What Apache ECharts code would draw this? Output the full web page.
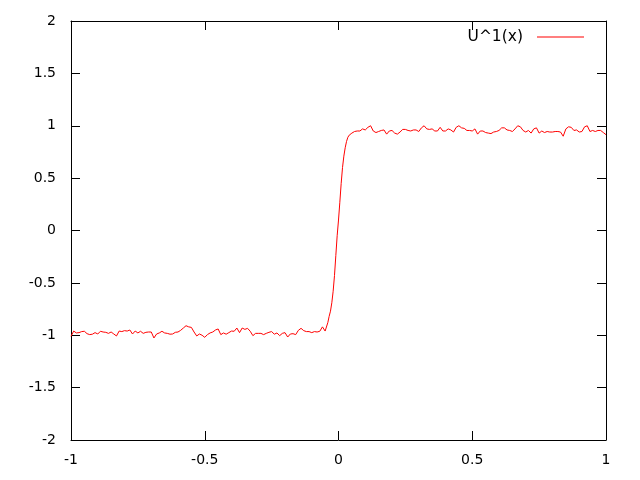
<!DOCTYPE html>
<html>
<head>
<meta charset="utf-8">
<script src="https://cdn.jsdelivr.net/npm/echarts@6/dist/echarts.min.js"></script>
<style>
  html, body { margin: 0; padding: 0; background: #fff; }
  #chart { width: 640px; height: 480px; }
</style>
</head>
<body>
<div id="chart"></div>
<script>
// lower plateau, x = -1 .. -0.04 step 0.01
const lowerY = [
  -1.01, -0.96, -0.978, -0.975, -0.965, -0.962, -0.985, -0.994, -0.99, -0.975,
  -0.988, -0.962, -0.969, -0.972, -0.982, -0.969, -0.988, -1.007, -0.96, -0.965,
  -0.956, -0.96, -0.95, -0.988, -0.96, -0.978, -0.962, -0.982, -0.972, -0.969,
  -0.969, -1.026, -0.988, -0.978, -0.962, -0.978, -0.982, -0.99, -0.988, -0.972,
  -0.969, -0.953, -0.931, -0.909, -0.92, -0.925, -0.969, -1.007, -0.988, -1.0,
  -1.02, -0.994, -0.978, -0.969, -0.95, -0.94, -0.994, -0.978, -0.99, -0.975,
  -0.96, -0.962, -0.931, -0.975, -0.931, -0.944, -0.934, -0.962, -1.004, -0.982,
  -0.982, -0.982, -0.994, -0.982, -0.972, -0.965, -0.99, -0.978, -1.004, -0.982,
  -0.975, -1.017, -0.988, -0.985, -0.994, -0.953, -0.934, -0.956, -0.965, -0.965,
  -0.975, -0.965, -0.969, -0.962, -0.92, -0.96, -0.88
];
// steep part around x = 0
const stepX = [-0.035, -0.03, -0.025, -0.02, -0.015, -0.01, -0.005, 0, 0.005, 0.01, 0.015, 0.02, 0.025, 0.03, 0.035, 0.04, 0.045];
const stepY = [-0.82, -0.77, -0.69, -0.58, -0.43, -0.24, -0.05, 0.1, 0.27, 0.45, 0.6, 0.71, 0.79, 0.85, 0.89, 0.91, 0.925];
// upper plateau, x = 0.05 .. 1 step 0.01
const upperY = [
  0.93, 0.945, 0.95, 0.95, 0.97, 0.96, 0.985, 1.0, 0.95, 0.935,
  0.945, 0.955, 0.96, 0.92, 0.95, 0.955, 0.93, 0.92, 0.94, 0.965,
  0.965, 0.955, 0.95, 0.96, 0.96, 0.945, 0.98, 1.0, 0.97, 0.965,
  0.97, 0.95, 0.95, 0.985, 0.95, 0.95, 0.97, 0.96, 0.94, 0.985,
  1.0, 0.98, 0.975, 0.955, 0.955, 0.95, 0.97, 0.92, 0.95, 0.95,
  0.935, 0.93, 0.925, 0.94, 0.945, 0.955, 0.98, 0.98, 0.96, 0.955,
  0.945, 0.97, 1.0, 0.99, 0.955, 0.94, 0.955, 0.93, 0.97, 0.98,
  0.93, 0.95, 0.935, 0.945, 0.94, 0.94, 0.945, 0.945, 0.94, 0.90,
  0.97, 0.99, 0.985, 0.955, 0.96, 0.94, 0.945, 0.99, 1.0, 0.945,
  0.955, 0.945, 0.955, 0.955, 0.935, 0.915
];
const xTicks = [-1, -0.5, 0, 0.5, 1];
const yTicks = [-2, -1.5, -1, -0.5, 0, 0.5, 1, 1.5, 2];

const pts = []
lowerY.forEach((v, i) => pts.push([+(-1 + i * 0.01).toFixed(2), v]))
stepX.forEach((x, i) => pts.push([x, stepY[i]]))
upperY.forEach((v, i) => pts.push([+(0.05 + i * 0.01).toFixed(2), v]))

const FONT = "'DejaVu Sans', sans-serif"
const fmt = v => String(v)

const chart = echarts.init(document.getElementById('chart'))
const tickStyle = { show: true, inside: true, length: 9, lineStyle: { color: '#000', width: 1 } }
const lineStyle = { show: true, onZero: false, lineStyle: { color: '#000', width: 1 } }

chart.setOption({
  animation: false,
  textStyle: { fontFamily: FONT },
  grid: { left: 71, right: 34, top: 21, bottom: 40, containLabel: false },
  legend: {
    right: 51, top: 24,
    align: 'right',
    itemWidth: 47, itemHeight: 1, itemGap: 0,
    icon: 'rect',
    textStyle: { fontFamily: FONT, fontSize: 15.5, color: '#000', padding: [0, 9, 0, 0] },
    data: ['U^1(x)']
  },
  xAxis: [
    {
      type: 'value', min: -1, max: 1, interval: 0.5,
      axisLine: lineStyle, axisTick: tickStyle, splitLine: { show: false },
      axisLabel: { color: '#000', fontSize: 14, fontFamily: FONT, margin: 13, formatter: fmt }
    },
    {
      type: 'value', position: 'top', min: -1, max: 1, interval: 0.5,
      axisLine: lineStyle, axisTick: tickStyle, splitLine: { show: false },
      axisLabel: { show: false }
    }
  ],
  yAxis: [
    {
      type: 'value', min: -2, max: 2, interval: 0.5,
      axisLine: lineStyle, axisTick: tickStyle, splitLine: { show: false },
      axisLabel: { color: '#000', fontSize: 14, fontFamily: FONT, margin: 15, formatter: fmt }
    },
    {
      type: 'value', position: 'right', min: -2, max: 2, interval: 0.5,
      axisLine: lineStyle, axisTick: tickStyle, splitLine: { show: false },
      axisLabel: { show: false }
    }
  ],
  series: [{
    name: 'U^1(x)',
    type: 'line',
    data: pts,
    showSymbol: false,
    symbol: 'none',
    color: '#ff0000',
    lineStyle: { color: '#ff0000', width: 1 }
  }]
})
</script>
</body>
</html>
